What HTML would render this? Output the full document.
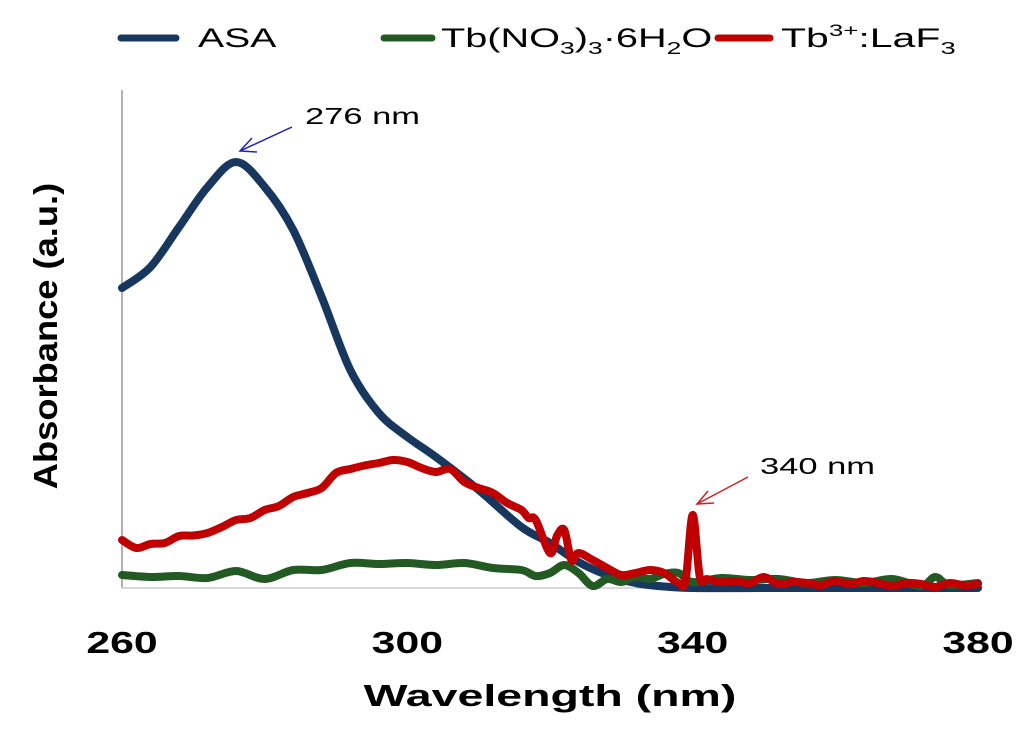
<!DOCTYPE html>
<html><head><meta charset="utf-8"><style>
body{margin:0;background:#fff;}
svg{display:block;font-family:"Liberation Sans",sans-serif;}
</style></head><body>
<svg id="chart" width="1024" height="733" viewBox="0 0 1024 733" xmlns="http://www.w3.org/2000/svg">
<g>
  <line x1="121" y1="38" x2="176" y2="38" stroke="#17375e" stroke-width="7" stroke-linecap="round"/>
  <text transform="translate(198,47) scale(1.45,1)" font-size="27">ASA</text>
  <line x1="384" y1="38" x2="432" y2="38" stroke="#235a23" stroke-width="7" stroke-linecap="round"/>
  <text transform="translate(441,47) scale(1.47,1)" font-size="27">Tb(NO<tspan font-size="18" dy="7">3</tspan><tspan dy="-7">)</tspan><tspan font-size="18" dy="7">3</tspan><tspan dy="-7">·6H</tspan><tspan font-size="18" dy="7">2</tspan><tspan dy="-7">O</tspan></text>
  <line x1="718" y1="38" x2="770" y2="38" stroke="#c00000" stroke-width="7" stroke-linecap="round"/>
  <text transform="translate(781,47) scale(1.52,1)" font-size="27">Tb<tspan font-size="17" dy="-11">3+</tspan><tspan dy="11">:LaF</tspan><tspan font-size="18" dy="7">3</tspan></text>
</g>
<line x1="122" y1="90" x2="122" y2="588" stroke="#999" stroke-width="1.5"/>
<line x1="122" y1="588" x2="978" y2="588" stroke="#ccc" stroke-width="1.5"/>
<g id="xticks"></g>
<g id="series"></g>
<text transform="translate(550,706) scale(1.5,1)" font-size="31" font-weight="bold" text-anchor="middle">Wavelength (nm)</text>
<text transform="translate(57,336) rotate(-90) scale(1.1,1)" font-size="33" font-weight="bold" text-anchor="middle">Absorbance (a.u.)</text>
<g>
  <text transform="translate(305,124) scale(1.5,1)" font-size="23">276 nm</text>
  <line x1="292" y1="127" x2="240" y2="151" stroke="#2020c0" stroke-width="1.5"/>
  <polyline points="252,138 240,151 257,152" fill="none" stroke="#2020c0" stroke-width="1.5"/>
</g>
<g>
  <text transform="translate(760,474) scale(1.5,1)" font-size="23">340 nm</text>
  <line x1="748" y1="477" x2="697" y2="504" stroke="#d02020" stroke-width="1.5"/>
  <polyline points="708,491 697,504 714,503" fill="none" stroke="#d02020" stroke-width="1.5"/>
</g>
</svg>
<script>
const xTicks=[260,300,340,380];
const asaX=[260,264,268,272,276,280,284,288,292,296,300,304,310,316,320,324,328,332,336,340,350,360,370,380];
const asaY=[0.60,0.642,0.722,0.802,0.852,0.802,0.716,0.582,0.436,0.35,0.302,0.262,0.196,0.122,0.09,0.052,0.026,0.01,0.003,0,0,0,0,0];
const redX=[260,262,264,266,268,270,272,274,276,278,280,282,284,286,288,290,292,294,296,298,300,302,304,306,308,310,312,314,316,317,318,320,321,322,323,324,326,328,330,332,334,336,338,339,340,341,342,344,346,348,350,352,354,356,358,360,362,364,366,368,370,372,374,376,378,380];
const redY=[0.096,0.08,0.088,0.09,0.104,0.105,0.11,0.122,0.136,0.14,0.156,0.164,0.182,0.19,0.2,0.23,0.238,0.245,0.25,0.256,0.252,0.24,0.232,0.238,0.212,0.2,0.19,0.17,0.156,0.14,0.136,0.07,0.105,0.116,0.056,0.07,0.056,0.04,0.026,0.03,0.036,0.03,0.01,0.015,0.146,0.022,0.018,0.012,0.014,0.01,0.022,0.008,0.012,0.01,0.006,0.014,0.008,0.014,0.01,0.004,0.01,0.008,0.002,0.01,0.006,0.008];
const grnX=[260,264,268,272,276,280,284,288,292,296,300,304,308,312,316,318,320,322,324,326,328,330,332,334,336,338,340,344,348,352,356,360,364,368,372,374,376,380];
const grnY=[0.026,0.022,0.024,0.02,0.034,0.018,0.036,0.036,0.05,0.048,0.05,0.046,0.05,0.04,0.036,0.024,0.03,0.046,0.03,0.004,0.018,0.012,0.022,0.018,0.028,0.03,0.012,0.02,0.016,0.018,0.01,0.016,0.01,0.018,0.004,0.022,0.006,0.01];
const xs=v=>122+(v-260)*(856/120);
const ys=v=>588-v*500;
const NS='http://www.w3.org/2000/svg';
const tg=document.getElementById('xticks');
xTicks.forEach(t=>{
  const e=document.createElementNS(NS,'text');
  
  
  e.setAttribute('transform','translate('+xs(t)+',653) scale(1.38,1)');
  e.setAttribute('font-size','31');e.setAttribute('font-weight','bold');e.setAttribute('text-anchor','middle');
  e.textContent=t;tg.appendChild(e);
});
const sg=document.getElementById('series');
function smoothPath(P){
  let d='M'+P[0][0].toFixed(1)+','+P[0][1].toFixed(1);
  for(let i=0;i<P.length-1;i++){
    const p0=P[Math.max(0,i-1)],p1=P[i],p2=P[i+1],p3=P[Math.min(P.length-1,i+2)];
    const c1=[p1[0]+(p2[0]-p0[0])/6,p1[1]+(p2[1]-p0[1])/6];
    const c2=[p2[0]-(p3[0]-p1[0])/6,p2[1]-(p3[1]-p1[1])/6];
    d+=' C'+c1[0].toFixed(1)+','+c1[1].toFixed(1)+' '+c2[0].toFixed(1)+','+c2[1].toFixed(1)+' '+p2[0].toFixed(1)+','+p2[1].toFixed(1);
  }
  return d;
}
function draw(X,Y,color,name,smooth){
  const P=X.map((x,i)=>[xs(x),ys(Y[i])]);
  const p=document.createElementNS(NS,'path');
  
  
  p.setAttribute('d',smooth?smoothPath(P):'M'+P.map(q=>q[0].toFixed(1)+','+q[1].toFixed(1)).join(' L'));
  p.setAttribute('fill','none');p.setAttribute('stroke',color);p.setAttribute('stroke-width','8');
  p.setAttribute('stroke-linejoin','round');p.setAttribute('stroke-linecap','round');
  sg.appendChild(p);
}
draw(asaX,asaY,'#17375e','asa-line',true);
draw(grnX,grnY,'#235a23','tb-nitrate-line',true);
draw(redX,redY,'#c00000','tb-laf3-line',true);
</script>
</body></html>
